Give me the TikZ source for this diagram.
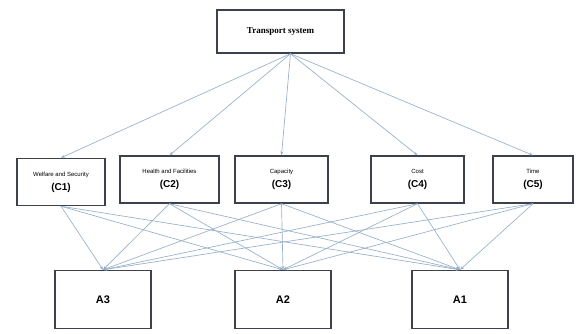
\documentclass[tikz,border=0pt]{standalone}
\usepackage{fontspec}
\setmainfont{Liberation Sans}
\newfontfamily\serifb{Liberation Serif}
\usetikzlibrary{arrows.meta}
\definecolor{edgec}{RGB}{150,175,200}
\definecolor{boxc}{RGB}{60,65,75}
\tikzset{
  box/.style={draw=boxc, line width=1.4pt, fill=white, inner sep=0pt, align=center},
  conn/.style={draw=edgec, line width=0.65pt, -{Stealth[length=4pt,width=3pt]}},
}
\newcommand{\crit}[2]{\fontsize{6}{7}\selectfont #1\\[2pt]\fontsize{10}{11}\selectfont\bfseries(#2)}
\begin{document}
\begin{tikzpicture}[x=1pt,y=-1pt]
\useasboundingbox (0,0) rectangle (576,334);
\node[box, minimum width=127pt, minimum height=43pt, font=\serifb\bfseries\fontsize{9}{10}\selectfont] (t) at (280.5,31.5) {Transport system};
\node[box, minimum width=88pt, minimum height=47pt] (c1) at (61,182) {\crit{Welfare and Security}{C1}};
\node[box, minimum width=99pt, minimum height=47pt] (c2) at (169.5,179.5) {\crit{Health and Facilities}{C2}};
\node[box, minimum width=93pt, minimum height=47pt] (c3) at (281.5,179.5) {\crit{Capacity}{C3}};
\node[box, minimum width=93pt, minimum height=47pt] (c4) at (417.5,179.5) {\crit{Cost}{C4}};
\node[box, minimum width=80pt, minimum height=47pt] (c5) at (533,179.5) {\crit{Time}{C5}};
\node[box, minimum width=96pt, minimum height=58pt, font=\bfseries\fontsize{11}{13}\selectfont] (a3) at (103,299.5) {A3};
\node[box, minimum width=96pt, minimum height=58pt, font=\bfseries\fontsize{11}{13}\selectfont] (a2) at (283,299.5) {A2};
\node[box, minimum width=96pt, minimum height=58pt, font=\bfseries\fontsize{11}{13}\selectfont] (a1) at (460,299.5) {A1};
\coordinate (ts) at ([xshift=10pt]t.south);
\foreach \c in {c1,c2,c3,c4,c5}{
  \draw[conn] (ts) -- (\c.north);
  \foreach \a in {a1,a2,a3}{
    \draw[conn] (\c.south) -- (\a.north);
  }
}
\end{tikzpicture}
\end{document}
